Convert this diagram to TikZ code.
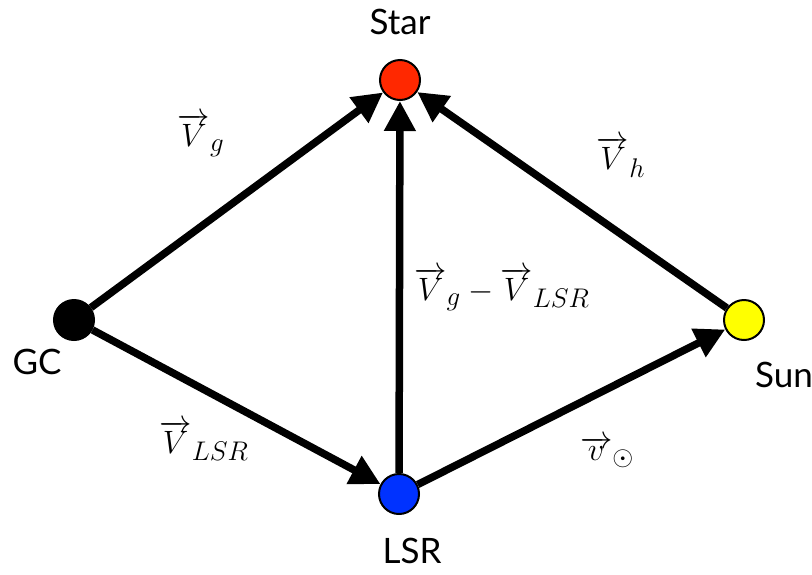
\documentclass[tikz,border=0pt]{standalone}
\usepackage{fontspec}
\setmainfont{Lato}
\usetikzlibrary{arrows.meta}
\definecolor{starred}{RGB}{255,40,0}
\definecolor{lsrblue}{RGB}{0,50,255}
\definecolor{sunyellow}{RGB}{255,255,0}
\newcommand{\biglbl}[1]{\scalebox{1.3}{\Huge$#1$}}
\begin{document}
\begin{tikzpicture}[x=1pt,y=-1pt,
  body/.style={circle,draw=black,line width=2pt,minimum size=40pt,inner sep=0pt},
  conn/.style={line width=7.5pt,-{Triangle[length=30pt,width=30pt]},shorten >=0pt},
  bodyname/.style={font=\fontsize{35}{40}\selectfont},
  vlabel/.style={inner sep=0pt}]
\useasboundingbox (0,0) rectangle (812,574);
\node[body,fill=starred] (star) at (400,80) {};
\node[body,fill=black] (gc) at (74,320) {};
\node[body,fill=lsrblue] (lsr) at (399,494) {};
\node[body,fill=sunyellow] (sun) at (744,320) {};
\node[bodyname] (tstar) at (400,22) {Star};
\node[bodyname] (tgc) at (37,362) {GC};
\node[bodyname] (tlsr) at (412,551) {LSR};
\node[bodyname] (tsun) at (784,375) {Sun};
\draw[conn] (gc) -- (star);
\draw[conn] (gc) -- (lsr);
\draw[conn] (lsr) -- (star);
\draw[conn] (lsr) -- (sun);
\draw[conn] (sun) -- (star);
\node[vlabel] (lvg) at (201,135) {\biglbl{\overrightarrow{V}_{g}}};
\node[vlabel] (lvh) at (621,157) {\biglbl{\overrightarrow{V}_{h}}};
\node[vlabel] (lvdiff) at (502,289) {\biglbl{\overrightarrow{V}_{g}-\overrightarrow{V}_{LSR}}};
\node[vlabel] (lvlsr) at (204,441) {\biglbl{\overrightarrow{V}_{LSR}}};
\node[vlabel] (lvsun) at (607,452) {\biglbl{\overrightarrow{v}_{\odot}}};
\end{tikzpicture}
\end{document}
